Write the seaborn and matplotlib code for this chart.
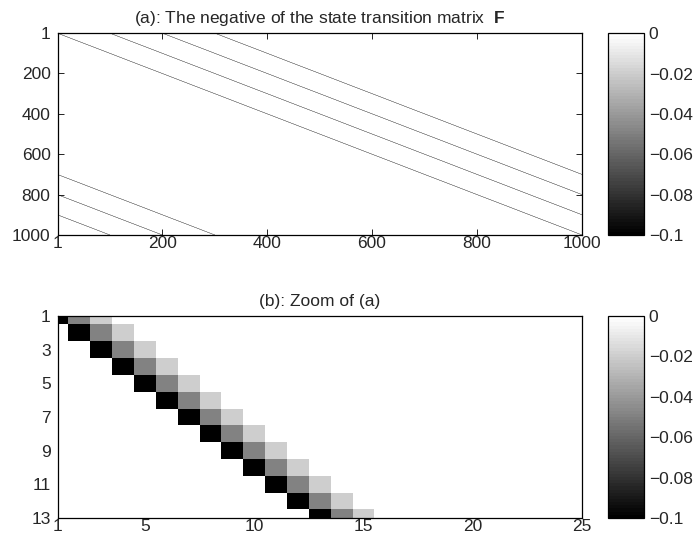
import numpy as np
import matplotlib
matplotlib.use("Agg")
import matplotlib.pyplot as plt
import seaborn as sns
from matplotlib.ticker import FuncFormatter

sns.set_style("white")
plt.rcParams["font.family"] = ["Liberation Sans", "DejaVu Sans"]
plt.rcParams["mathtext.fontset"] = "custom"
plt.rcParams["mathtext.bf"] = "Liberation Sans:bold"
plt.rcParams["mathtext.rm"] = "Liberation Sans"

# Negated state transition matrix: circulant bands
n_states = 1000
band_offsets = [0, 100, 200, 300]
band_values = [-0.1, -0.1, -0.1, -0.1]

# Upper-left corner of the matrix
zoom_rows = 13
zoom_cols = 25
zoom_offsets = [0, 1, 2]
zoom_values = [-0.1, -0.05, -0.02]

full_ticks = [1, 200, 400, 600, 800, 1000]
zoom_xticks = [1, 5, 10, 15, 20, 25]
zoom_yticks = [1, 3, 5, 7, 9, 11, 13]
cbar_ticks = [0, -0.02, -0.04, -0.06, -0.08, -0.1]

vmin, vmax = -0.1, 0.0
cmap = matplotlib.colormaps["gray"].resampled(64)
FS = 12.5

F = np.zeros((n_states, n_states))
idx = np.arange(n_states)
for off, val in zip(band_offsets, band_values):
    F[idx, (idx + off) % n_states] = val

Z = np.zeros((zoom_rows, zoom_cols))
for off, val in zip(zoom_offsets, zoom_values):
    for r in range(zoom_rows):
        c = r + off
        if c < zoom_cols:
            Z[r, c] = val

fig = plt.figure(figsize=(6.93, 5.44), dpi=100)
ax1 = fig.add_axes([0.083, 0.568, 0.757, 0.371])
cax1 = fig.add_axes([0.877, 0.568, 0.053, 0.371])
ax2 = fig.add_axes([0.083, 0.048, 0.757, 0.371])
cax2 = fig.add_axes([0.877, 0.048, 0.053, 0.371])

fmt = FuncFormatter(lambda v, p: ("%g" % v).replace("-", "\u2212") if abs(v) > 1e-12 else "0")


def style_panel(ax, cax, xt, yt, title):
    ax.set_xticks([v - 0.5 for v in xt])
    ax.set_xticklabels([str(v) for v in xt], rotation=0)
    ax.set_yticks([v - 0.5 for v in yt])
    ax.set_yticklabels([str(v) for v in yt], rotation=0)
    for s in ax.spines.values():
        s.set_visible(True)
        s.set_color("black")
        s.set_linewidth(0.9)
    ax.tick_params(direction="in", bottom=True, left=True, top=True, right=True,
                   length=4, width=0.6, labelsize=FS, color="black")
    ax.tick_params(axis="x", pad=1)
    ax.tick_params(axis="y", pad=5)
    ax.set_title(title, fontsize=FS, pad=7)
    cb = ax.collections[0].colorbar
    cb.set_ticks(cbar_ticks)
    cb.ax.yaxis.set_major_formatter(fmt)
    cb.outline.set_visible(True)
    cb.outline.set_edgecolor("black")
    cb.outline.set_linewidth(0.9)
    cax.tick_params(direction="in", left=True, right=True, labelleft=False,
                    labelright=True, length=3, width=0.6, labelsize=FS, pad=3)


# Full matrix: only the non-zero bands are painted, with smooth unsnapped cells
sns.heatmap(F, ax=ax1, cbar_ax=cax1, cmap=cmap, vmin=vmin, vmax=vmax,
            mask=(F == 0), linewidths=0.08, linecolor="face", antialiased=True,
            snap=False, xticklabels=False, yticklabels=False, rasterized=True)
style_panel(ax1, cax1, full_ticks, full_ticks,
            r"(a): The negative of the state transition matrix  $\mathbf{F}$")

sns.heatmap(Z, ax=ax2, cbar_ax=cax2, cmap=cmap, vmin=vmin, vmax=vmax,
            xticklabels=False, yticklabels=False, rasterized=True)
ax2.set_xlim(0.5, zoom_cols - 0.5)
ax2.set_ylim(zoom_rows - 0.5, 0.5)
style_panel(ax2, cax2, zoom_xticks, zoom_yticks, "(b): Zoom of (a)")

fig.savefig("out.png", dpi=100)
